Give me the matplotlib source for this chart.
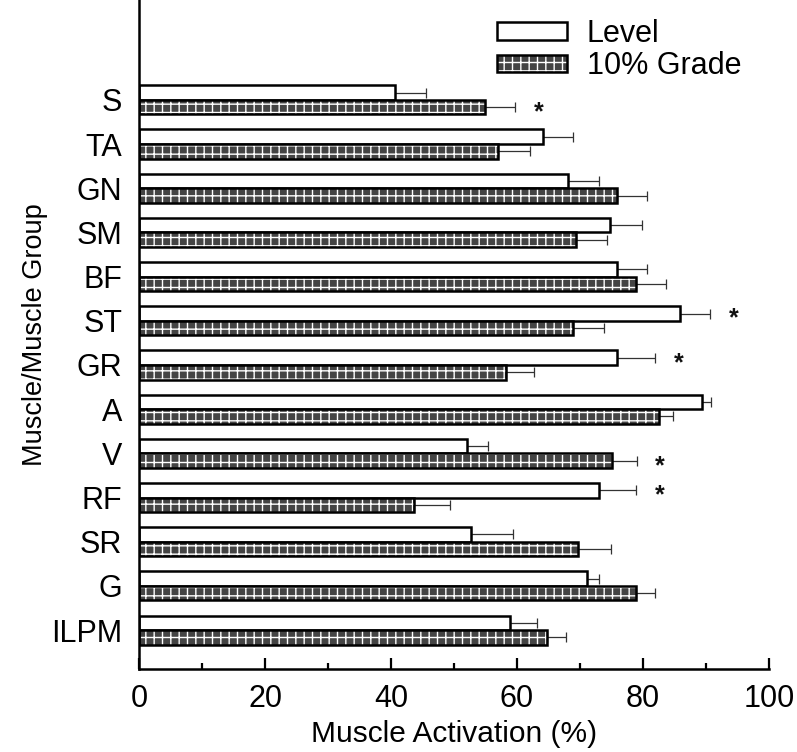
import numpy as np
import matplotlib
matplotlib.use("Agg")
import matplotlib.pyplot as plt

plt.rcParams["font.family"] = ["Liberation Sans", "DejaVu Sans"]
plt.rcParams["hatch.linewidth"] = 1.0

muscles = ["S", "TA", "GN", "SM", "BF", "ST", "GR", "A", "V", "RF", "SR", "G", "ILPM"]
level = [40.6, 64.1, 68.1, 74.8, 75.8, 85.9, 75.9, 89.3, 52.1, 73.0, 52.7, 71.1, 58.9]
level_err = [5.0, 4.8, 4.9, 5.0, 4.9, 4.8, 6.0, 1.5, 3.3, 5.9, 6.6, 1.9, 4.3]
grade = [54.9, 57.0, 75.9, 69.3, 78.9, 68.9, 58.2, 82.6, 75.0, 43.6, 69.7, 78.9, 64.7]
grade_err = [4.8, 5.0, 4.7, 5.0, 4.8, 4.9, 4.5, 2.2, 4.0, 5.8, 5.2, 3.0, 3.0]
# significant differences: (muscle, which bar)
stars = [("S", "grade"), ("ST", "level"), ("GR", "level"), ("V", "grade"), ("RF", "level")]

fig = plt.figure(figsize=(7.97, 7.52), dpi=100)
ax = fig.add_axes([0.1744, 0.1104, 0.7905, 0.8896])

y = np.arange(len(muscles))
h = 0.33
y_lev = y - h / 2
y_grd = y + h / 2

# level bars (white)
ax.barh(y_lev, level, height=h, color="white", edgecolor="black", linewidth=1.8, zorder=2)
# grade bars: gray with white grid hatch, then black outline
ax.barh(y_grd, grade, height=h, color="#444444", edgecolor="white", hatch="++", linewidth=0, zorder=2)
ax.barh(y_grd, grade, height=h, fill=False, edgecolor="black", linewidth=1.8, zorder=3)

zeros = np.zeros(len(muscles))
ax.errorbar(level, y_lev, xerr=[zeros, level_err], fmt="none", ecolor="#333333",
            elinewidth=0.9, capsize=3.6, capthick=0.9, zorder=1)
ax.errorbar(grade, y_grd, xerr=[zeros, grade_err], fmt="none", ecolor="#333333",
            elinewidth=0.9, capsize=3.6, capthick=0.9, zorder=1)

for name, which in stars:
    i = muscles.index(name)
    if which == "level":
        xs, ys = level[i] + level_err[i], y_lev[i]
    else:
        xs, ys = grade[i] + grade_err[i], y_grd[i]
    ax.text(xs + 3.7, ys + 0.12, "*", ha="center", va="center", fontsize=18,
            fontweight="bold", color="#111111")

ax.set_xlim(0, 100)
ax.set_ylim(12.88, -2.26)
ax.set_yticks(y)
ax.set_yticklabels(muscles)
ax.set_xticks(np.arange(0, 101, 20))
ax.set_xticks(np.arange(10, 100, 20), minor=True)
ax.tick_params(axis="x", which="major", direction="in", length=8, width=1.6, labelsize=22, pad=11)
ax.tick_params(axis="x", which="minor", direction="in", length=4.5, width=1.6)
ax.tick_params(axis="y", length=0, labelsize=22, pad=12)

for s in ["top", "right"]:
    ax.spines[s].set_visible(False)
for s in ["left", "bottom"]:
    ax.spines[s].set_linewidth(1.8)

ax.set_xlabel("Muscle Activation (%)", fontsize=21.5, labelpad=4)
ax.set_ylabel("Muscle/Muscle Group", fontsize=19.5, labelpad=2)

# legend
p_lev = plt.Rectangle((0, 0), 1, 1, facecolor="white", edgecolor="black", linewidth=1.8)
p_grd_fill = plt.Rectangle((0, 0), 1, 1, facecolor="#444444", edgecolor="white", hatch="++", linewidth=0)
p_grd_edge = plt.Rectangle((0, 0), 1, 1, fill=False, edgecolor="black", linewidth=1.8)
ax.legend([p_lev, (p_grd_fill, p_grd_edge)], ["Level", "10% Grade"],
          loc="upper right", bbox_to_anchor=(0.956, 0.972), frameon=False, fontsize=22,
          borderpad=0, borderaxespad=0,
          handlelength=2.3, handleheight=0.5, handletextpad=0.65, labelspacing=0.08)

fig.savefig("out.png", dpi=100)
